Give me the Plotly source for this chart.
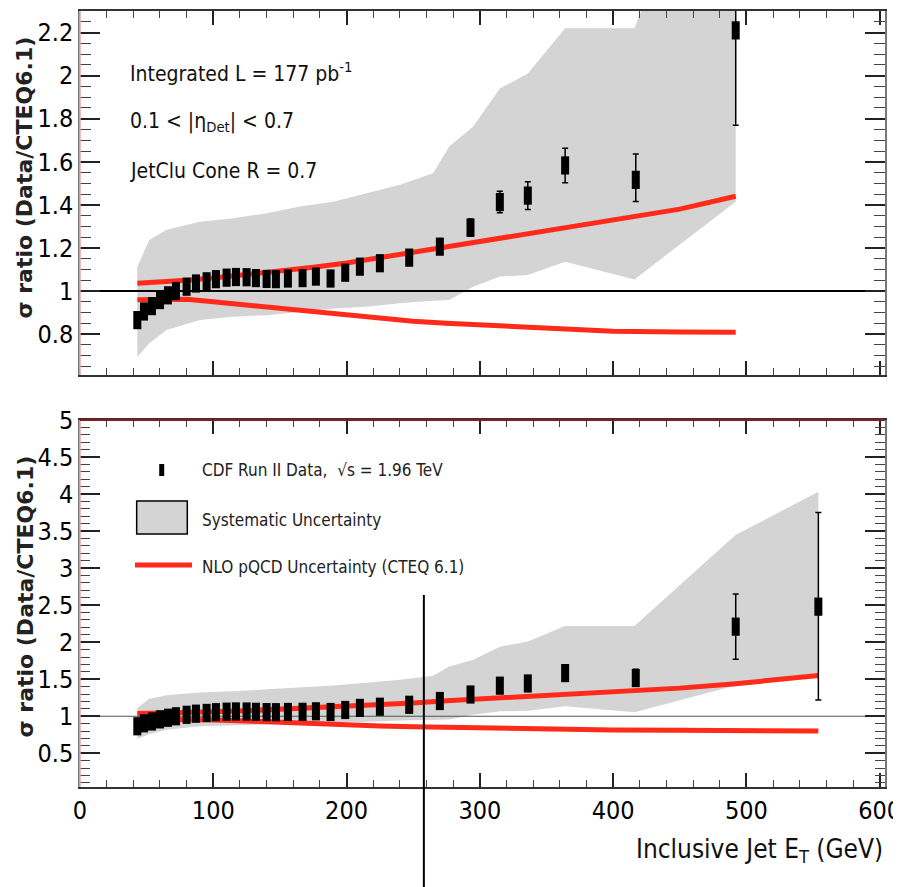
import plotly.graph_objects as go

# ---------------- data ----------------
E = [43, 48, 54, 60, 66, 72, 80, 87, 95, 102, 110, 117, 125, 132, 140, 147,
     156, 167, 177, 188, 199, 210, 225, 247, 270, 293, 315, 336, 364, 417, 492, 554]
ratio = [0.865, 0.905, 0.93, 0.958, 0.98, 1.0, 1.02, 1.035, 1.045, 1.055, 1.062, 1.065, 1.064, 1.06, 1.056, 1.055,
         1.058, 1.06, 1.067, 1.058, 1.085, 1.113, 1.129, 1.155, 1.206, 1.294, 1.413, 1.443, 1.583, 1.516, 2.21, 2.48]
err_plus = [0.012, 0.01, 0.01, 0.01, 0.01, 0.01, 0.01, 0.01, 0.01, 0.01, 0.01, 0.01, 0.01, 0.01, 0.01, 0.012,
            0.012, 0.014, 0.015, 0.017, 0.019, 0.021, 0.024, 0.028, 0.033, 0.04, 0.05, 0.064, 0.08, 0.12, 0.44, 1.27]
err_minus = [0.012, 0.01, 0.01, 0.01, 0.01, 0.01, 0.01, 0.01, 0.01, 0.01, 0.01, 0.01, 0.01, 0.01, 0.01, 0.012,
             0.012, 0.014, 0.015, 0.017, 0.019, 0.021, 0.024, 0.028, 0.033, 0.04, 0.05, 0.064, 0.08, 0.10, 0.44, 1.26]

sys_E = [43, 52, 65, 90, 115, 140, 165, 190, 215, 240, 265, 277, 295, 315, 336, 364, 416, 492, 554]
sys_up = [1.113, 1.237, 1.284, 1.322, 1.338, 1.361, 1.392, 1.415, 1.454, 1.493, 1.547, 1.671, 1.764, 1.94,
          2.01, 2.22, 2.22, 3.45, 4.03]
sys_lo = [0.694, 0.757, 0.819, 0.865, 0.881, 0.888, 0.904, 0.919, 0.927, 0.943, 0.955, 0.958, 1.02, 1.067,
          1.074, 1.136, 1.054, 1.415, 1.55]

nlo_E = [43, 60, 80, 100, 125, 150, 175, 200, 225, 250, 275, 300, 350, 400, 450, 492, 554]
nlo_up = [1.036, 1.04, 1.05, 1.06, 1.075, 1.095, 1.11, 1.13, 1.155, 1.18, 1.21, 1.235, 1.28, 1.33, 1.38, 1.44, 1.55]
nlo_lo = [0.96, 0.962, 0.962, 0.95, 0.935, 0.915, 0.9, 0.885, 0.87, 0.86, 0.85, 0.842, 0.825, 0.813, 0.81, 0.808, 0.80]

top_n_points = 31      # the top panel stops at the 492 GeV bin
top_n_sys = 18
top_n_nlo = 16
ref_value = 1.0
x_range = [0, 604]
cursor_E = 258         # stray vertical cursor line visible in the reference

x_title = "Inclusive Jet E<sub>T</sub> (GeV)"
y_title = "σ ratio (Data/CTEQ6.1)"
legend_labels = ["CDF Run II Data,\u00a0\u00a0√s = 1.96 TeV",
                 "Systematic Uncertainty",
                 "NLO pQCD Uncertainty (CTEQ 6.1)"]
info_lines = ["Integrated L = 177 pb<sup>-1</sup>",
              "0.1 < |η<sub>Det</sub>| < 0.7",
              "JetClu Cone R = 0.7"]

# ---------------- style ----------------
FONT = "DejaVu Sans Condensed, Liberation Sans Narrow, Arial Narrow, Liberation Sans, Arial, sans-serif"
GREY = "#d4d4d4"
RED = "#ff2a1a"

fig = go.Figure()


def add_panel(xa, ya, n_pts, n_sys, n_nlo, ref_color, ref_width):
    bx = sys_E[:n_sys] + sys_E[:n_sys][::-1]
    by = sys_up[:n_sys] + sys_lo[:n_sys][::-1]
    fig.add_trace(go.Scatter(x=bx, y=by, fill="toself", fillcolor=GREY, mode="lines",
                             line=dict(width=0, color=GREY), hoverinfo="skip",
                             showlegend=False, xaxis=xa, yaxis=ya))
    for arr in (nlo_up, nlo_lo):
        fig.add_trace(go.Scatter(x=nlo_E[:n_nlo], y=arr[:n_nlo], mode="lines",
                                 line=dict(color=RED, width=5), showlegend=False,
                                 xaxis=xa, yaxis=ya))
    fig.add_trace(go.Scatter(x=x_range, y=[ref_value, ref_value], mode="lines",
                             line=dict(color=ref_color, width=ref_width), showlegend=False,
                             xaxis=xa, yaxis=ya))
    fig.add_trace(go.Scatter(
        x=E[:n_pts], y=ratio[:n_pts], mode="markers",
        marker=dict(symbol="line-ns", size=13, color="black",
                    line=dict(color="black", width=8)),
        error_y=dict(type="data", symmetric=False, array=err_plus[:n_pts],
                     arrayminus=err_minus[:n_pts], color="black", thickness=1.5, width=3),
        showlegend=False, xaxis=xa, yaxis=ya))


add_panel("x", "y", top_n_points, top_n_sys, top_n_nlo, "black", 2)
add_panel("x2", "y2", len(E), len(sys_E), len(nlo_E), "#555555", 1.2)

tickfont = dict(family=FONT, size=25, color="black")

xcommon = dict(range=x_range, showgrid=False, zeroline=False, showline=True, automargin=False,
               linecolor="#333333", linewidth=1.5, mirror="ticks", ticklabeloverflow="allow",
               ticks="inside", ticklen=14, tickwidth=1.5, tickcolor="#222",
               tick0=0, dtick=100,
               minor=dict(ticks="inside", ticklen=7, dtick=20, tickwidth=1, tickcolor="#444"))
ycommon = dict(showgrid=False, zeroline=False, showline=True, automargin=False,
               linecolor="#777777", linewidth=1.5, mirror="ticks", ticklabeloverflow="allow",
               ticks="inside", ticklen=20, tickwidth=1.8, tickcolor="#222", tick0=0,
               tickfont=tickfont)

# the page body adds an 8 px offset, so the figure is 8 px smaller and margins are shifted
fig.update_layout(
    width=893, height=879,
    margin=dict(l=72, r=16, t=3, b=100, autoexpand=False),
    paper_bgcolor="white", plot_bgcolor="white",
    showlegend=False,
    xaxis=dict(**xcommon, anchor="y", domain=[0, 1], showticklabels=False),
    yaxis=dict(**ycommon, anchor="x", domain=[0.5309, 1], range=[0.61, 2.30], dtick=0.2,
               minor=dict(ticks="inside", ticklen=11, dtick=0.05, tickwidth=1, tickcolor="#444")),
    xaxis2=dict(**xcommon, anchor="y2", domain=[0, 1], showticklabels=True, tickfont=tickfont),
    yaxis2=dict(**ycommon, anchor="x2", domain=[0, 0.4729], range=[0.045, 5.0001], dtick=0.5,
                minor=dict(ticks="inside", ticklen=10, dtick=0.1, tickwidth=1, tickcolor="#444")),
)

shapes = [
    dict(type="line", xref="x domain", yref="y domain", x0=0, x1=0, y0=0, y1=1,
         line=dict(color="#e8a8a8", width=1.5)),
    dict(type="line", xref="x2 domain", yref="y2 domain", x0=0, x1=0, y0=0, y1=1,
         line=dict(color="#e8a8a8", width=1.5)),
    dict(type="line", xref="x2 domain", yref="y2 domain", x0=0, x1=1, y0=1, y1=1,
         line=dict(color="#8b1a1a", width=2)),
    dict(type="line", xref="x2", yref="paper", x0=cursor_E, x1=cursor_E, y0=-0.1289, y1=0.2474,
         line=dict(color="black", width=2)),
    dict(type="rect", xref="paper", yref="paper", x0=0.0984, x1=0.1046, y0=0.4008, y1=0.4162,
         fillcolor="black", line=dict(width=0)),
    dict(type="rect", xref="paper", yref="paper", x0=0.0704, x1=0.1333, y0=0.326, y1=0.3686,
         fillcolor=GREY, line=dict(color="black", width=1.5)),
    dict(type="line", xref="paper", yref="paper", x0=0.0683, x1=0.1391, y0=0.2861, y1=0.2861,
         line=dict(color=RED, width=5)),
]
fig.update_layout(shapes=shapes)

ann = []
for txt, yy in zip(legend_labels, [0.4085, 0.3441, 0.2835]):
    ann.append(dict(text=txt, x=0.1491, y=yy, xref="paper", yref="paper",
                    xanchor="left", yanchor="middle", showarrow=False,
                    font=dict(family=FONT, size=17, color="#222")))
for txt, yy in zip(info_lines, [0.9214, 0.857, 0.7938]):
    ann.append(dict(text=txt, x=0.0596, y=yy, xref="paper", yref="paper",
                    xanchor="left", yanchor="middle", showarrow=False,
                    font=dict(family=FONT, size=21, color="#111")))
for yy in (0.7854, 0.2455):
    ann.append(dict(text="<b>" + y_title + "</b>", x=-0.0683, y=yy, xref="paper", yref="paper",
                    xanchor="center", yanchor="middle", textangle=-90, showarrow=False,
                    font=dict(family="DejaVu Sans, Liberation Sans, Arial, sans-serif", size=22,
                              color="#222")))
ann.append(dict(text=x_title, x=1.0, y=-0.0812, xref="paper", yref="paper",
                xanchor="right", yanchor="middle", showarrow=False,
                font=dict(family=FONT, size=26, color="#111")))
fig.update_layout(annotations=ann)

fig.write_html("out.html")
